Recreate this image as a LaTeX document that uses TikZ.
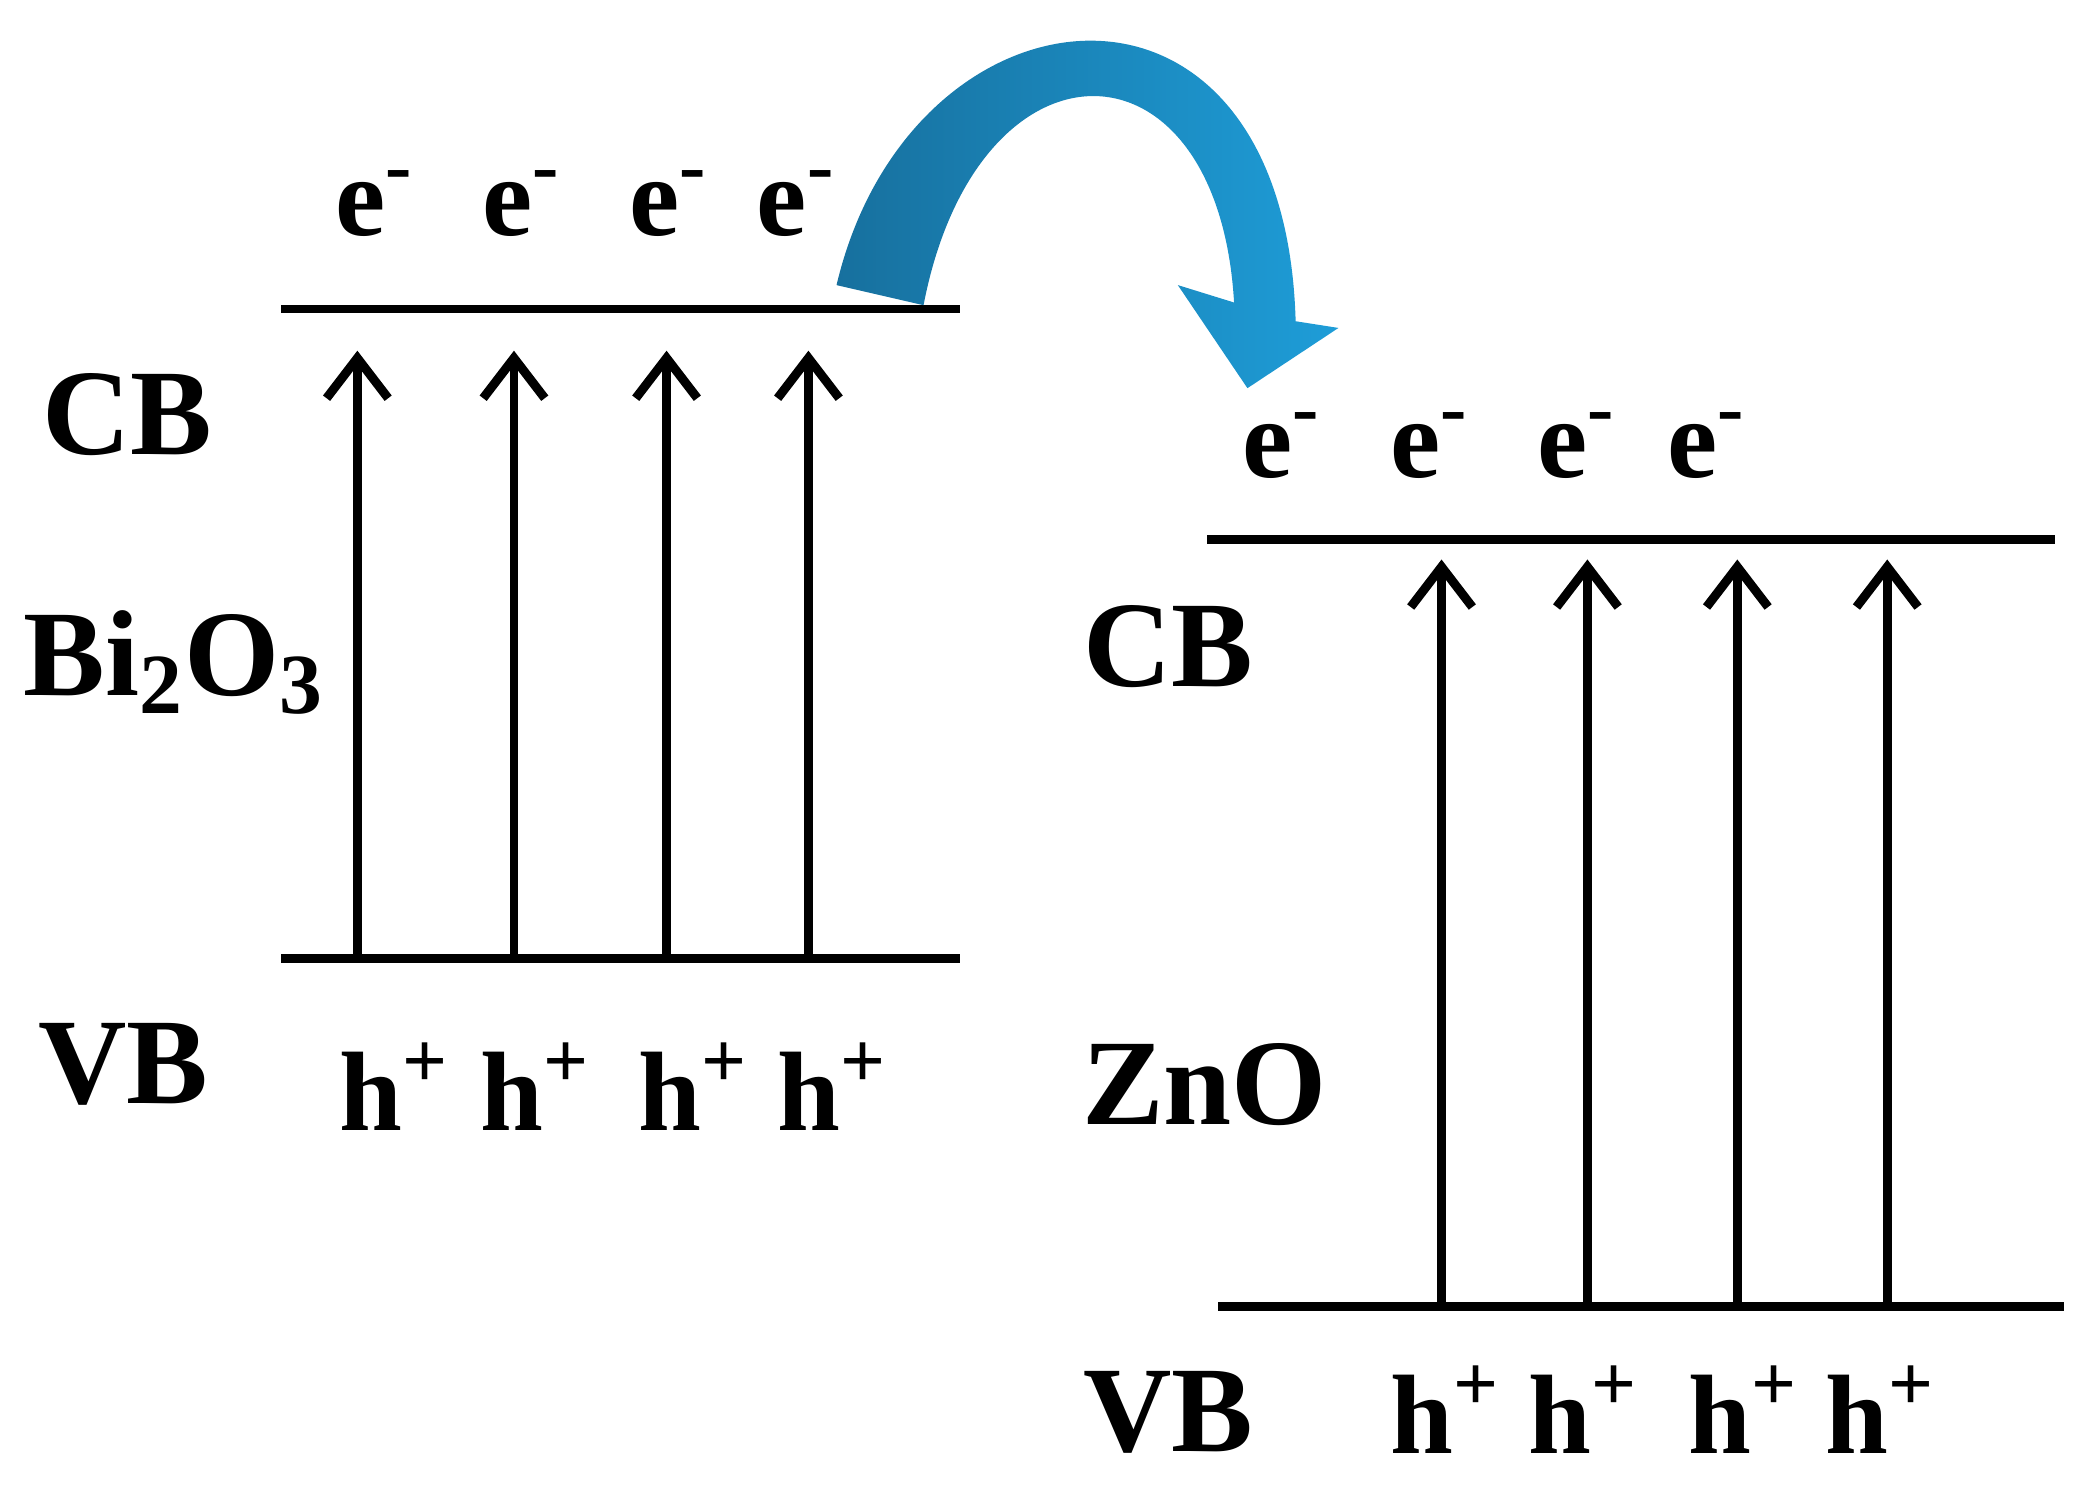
\documentclass[tikz,border=0pt]{standalone}
\usepackage{fontspec}
\setmainfont{Liberation Serif}
\usetikzlibrary{arrows.meta}
\definecolor{darkblue}{HTML}{17709E}
\definecolor{lightblue}{HTML}{1E9DD8}
\tikzset{
	level/.style={line width=1.8pt},
	excite/.style={line width=1.9pt, -{Straight Barb[length=3mm,width=4.6mm,line width=1.9pt]}},
	lbl/.style={font=\fontsize{26}{30}\selectfont\bfseries, inner sep=0pt},
	carrier/.style={font=\fontsize{24}{28}\selectfont\bfseries, inner sep=0pt}
}
\begin{document}
\begin{tikzpicture}[x=0.01cm,y=-0.01cm]
	\useasboundingbox (0,0) rectangle (1560,1111);

	% Bi2O3 band edges
	\coordinate (bcbL) at (210,231); \coordinate (bcbR) at (717,231);
	\coordinate (bvbL) at (210,716); \coordinate (bvbR) at (717,716);
	\draw[level] (bcbL) -- (bcbR);
	\draw[level] (bvbL) -- (bvbR);
	\foreach \x [count=\i] in {267,384,498,604}{
		\coordinate (bv\i) at (\x,716);
		\coordinate (bc\i) at (\x,262);
		\draw[excite] (bv\i) -- (bc\i);
	}
	\foreach \x [count=\i] in {280,390,500,595}
		\node[carrier] (be\i) at (\x,152) {e\textsuperscript{-}};
	\foreach \x [count=\i] in {295,400,518,622}
		\node[carrier] (bh\i) at (\x,812) {h\textsuperscript{+}};
	\node[lbl] (bcb) at (95,310) {CB};
	\node[lbl] (bio) at (130,495) {Bi\textsubscript{2}O\textsubscript{3}};
	\node[lbl] (bvb) at (92,795) {VB};

	% ZnO band edges
	\coordinate (zcbL) at (902,403); \coordinate (zcbR) at (1535,403);
	\coordinate (zvbL) at (910,976); \coordinate (zvbR) at (1542,976);
	\draw[level] (zcbL) -- (zcbR);
	\draw[level] (zvbL) -- (zvbR);
	\foreach \x [count=\i] in {1077,1186,1298,1410}{
		\coordinate (zv\i) at (\x,976);
		\coordinate (zc\i) at (\x,418);
		\draw[excite] (zv\i) -- (zc\i);
	}
	\foreach \x [count=\i] in {958,1068,1178,1275}
		\node[carrier] (ze\i) at (\x,333) {e\textsuperscript{-}};
	\foreach \x [count=\i] in {1080,1183,1303,1405}
		\node[carrier] (zh\i) at (\x,1053) {h\textsuperscript{+}};
	\node[lbl] (zcb) at (873,483) {CB};
	\node[lbl] (zno) at (900,810) {ZnO};
	\node[lbl] (zvb) at (873,1055) {VB};

	% electron transfer arrow
	\shade[left color=darkblue, right color=lightblue]
		(625,213) .. controls (680,-20) and (960,-50) .. (968,240)
		-- (1000,245) -- (932,290) -- (880,213) -- (922,226)
		.. controls (910,20) and (730,20) .. (690,228) -- cycle;
\end{tikzpicture}
\end{document}
